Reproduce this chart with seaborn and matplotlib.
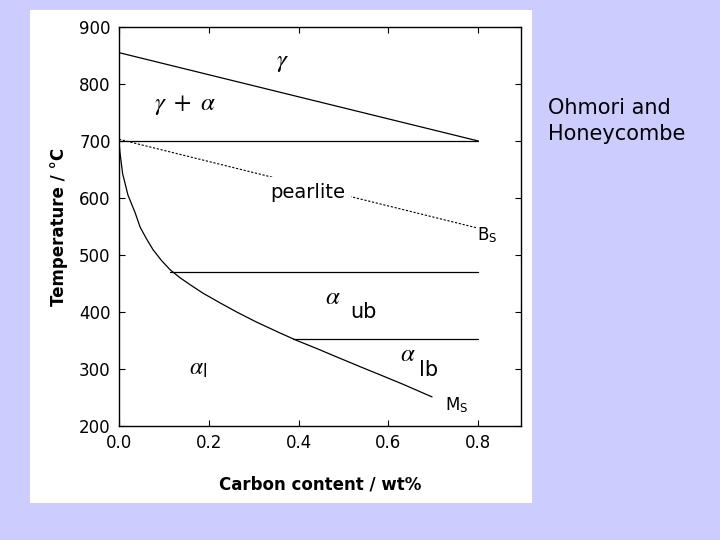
import matplotlib
matplotlib.use("Agg")
import matplotlib.pyplot as plt
import numpy as np
import pandas as pd
import seaborn as sns
from matplotlib.patches import Rectangle

# phase boundaries (carbon wt%, temperature in C)
ae3_c = [0.0, 0.8]
ae3_t = [855, 700]

a1_c = [0.0, 0.8]
a1_t = [700, 700]

pearlite_c = [0.0, 0.8]
pearlite_t = [703, 547]

bs_curve_c = [0.0, 0.002, 0.008, 0.020, 0.036, 0.047, 0.060, 0.076, 0.095, 0.114,
              0.136, 0.160, 0.187, 0.225, 0.262, 0.307, 0.359, 0.396, 0.440,
              0.470, 0.537, 0.590, 0.633, 0.697]
bs_curve_t = [700, 681, 643, 605, 574, 549, 530, 509, 490, 474,
              460, 447, 433, 416, 400, 382, 363, 350, 336,
              326, 304, 287, 273, 251]

ub_c = [0.114, 0.8]
ub_t = [471, 471]

lb_c = [0.388, 0.8]
lb_t = [353, 353]

x_ticks = [0.0, 0.2, 0.4, 0.6, 0.8]
y_ticks = [200, 300, 400, 500, 600, 700, 800, 900]

sns.set_style("ticks")
plt.rcParams['font.family'] = ['DejaVu Sans']
plt.rcParams['mathtext.fontset'] = 'stix'
plt.rcParams['text.color'] = 'black'
plt.rcParams['axes.labelcolor'] = 'black'

fig = plt.figure(figsize=(7.2, 5.4), dpi=100)
fig.patch.set_facecolor('#ccccff')

# white panel behind the chart
fig.patches.append(Rectangle((30 / 720, 1 - 503 / 540), 502 / 720, 493 / 540,
                             transform=fig.transFigure, facecolor='white',
                             edgecolor='none', zorder=-5))

ax = fig.add_axes([119 / 720, 1 - 426 / 540, 402 / 720, 399 / 540])
ax.set_facecolor('white')

solid = dict(color='black', linewidth=0.9, sort=False, ax=ax)
sns.lineplot(x=ae3_c, y=ae3_t, **solid)
sns.lineplot(x=a1_c, y=a1_t, **solid)
sns.lineplot(x=bs_curve_c, y=bs_curve_t, **solid)
sns.lineplot(x=ub_c, y=ub_t, **solid)
sns.lineplot(x=lb_c, y=lb_t, **solid)
sns.lineplot(x=pearlite_c, y=pearlite_t, color='black', linewidth=0.8,
             linestyle=(0, (2, 1.5)), sort=False, ax=ax)

ax.set_xlim(0, 0.895)
ax.set_ylim(200, 900)
ax.set_xticks(x_ticks)
ax.set_xticklabels([f"{v:.1f}" for v in x_ticks])
ax.set_yticks(y_ticks)
ax.tick_params(direction='in', length=4, width=0.8, top=True, right=True,
               labelsize=12, colors='black', pad=6)
for s in ax.spines.values():
    s.set_linewidth(1.0)
    s.set_color('black')

ax.set_xlabel("Carbon content / wt%", fontsize=12, fontweight='bold', labelpad=17)
ax.set_ylabel("Temperature / \u00b0C", fontsize=12, fontweight='bold', labelpad=8)

# region labels
ax.text(0.365, 838, r"$\gamma$", fontsize=18, ha='center', va='center')
ax.text(0.147, 763, r"$\gamma\ +\ \alpha$", fontsize=18, ha='center', va='center')
ax.text(0.42, 610, "pearlite", fontsize=14, ha='center', va='center',
        bbox=dict(facecolor='white', edgecolor='none', pad=4))
ax.text(0.82, 535, r"B$_\mathregular{S}$", fontsize=12, ha='center', va='center',
        bbox=dict(facecolor='white', edgecolor='none', pad=1))
ax.text(0.477, 427, r"$\alpha$", fontsize=18, ha='center', va='center')
ax.text(0.545, 400, "ub", fontsize=15, ha='center', va='center')
ax.text(0.642, 327, r"$\alpha$", fontsize=18, ha='center', va='center')
ax.text(0.69, 298, "lb", fontsize=15, ha='center', va='center')
ax.text(0.176, 302, r"$\alpha_\mathregular{l}$", fontsize=17, ha='center', va='center')
ax.text(0.752, 237, r"M$_\mathregular{S}$", fontsize=12, ha='center', va='center')

fig.text(548 / 720, 1 - 121 / 540, "Ohmori and\nHoneycombe", fontsize=15,
         ha='left', va='center', linespacing=1.4)

fig.savefig("out.png", dpi=100, facecolor=fig.get_facecolor())
